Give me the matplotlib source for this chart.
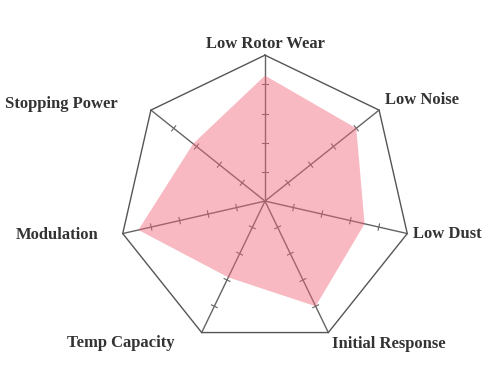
import matplotlib.pyplot as plt
import numpy as np

categories = ['Low Rotor Wear', 'Low Noise', 'Low Dust', 'Initial Response',
              'Temp Capacity', 'Modulation', 'Stopping Power']
values = [8.6, 8.0, 7.0, 8.0, 5.8, 8.9, 6.3]
tick_values = [2, 4, 6, 8]
r_max = 10

# label offsets (pixels) from each outer vertex, plus alignment
label_offsets = [(0, 11), (6, 10), (6, 0), (4, -11), (-27, -10), (-24, -1), (-33, 6)]
label_ha = ['center', 'left', 'left', 'left', 'right', 'right', 'right']

n = len(categories)
angles = np.arange(n) * 2 * np.pi / n

fig = plt.figure(figsize=(5, 3.82), dpi=100)
ax = fig.add_axes([0.238, 0.0916, 0.584, 0.764], projection='polar')
ax.set_theta_zero_location('N')
ax.set_theta_direction(-1)
ax.set_ylim(0, r_max)
ax.axis('off')

# spokes and small cross ticks
half = 0.22
for a in angles:
    ax.plot([a, a], [0, r_max], color='#646464', lw=1, zorder=1, clip_on=False)
    for t in tick_values:
        d = np.arctan(half / t)
        rr = np.hypot(t, half)
        ax.plot([a - d, a + d], [rr, rr], color='#646464', lw=0.8, zorder=1)

# outer heptagon
closed = np.append(angles, angles[0])
ax.plot(closed, [r_max] * (n + 1), color='#555555', lw=1, zorder=1, clip_on=False)

# data area
vals = values + values[:1]
ax.fill(closed, vals, color='#f06478', alpha=0.45, lw=0, zorder=2)

for a, lab, off, ha in zip(angles, categories, label_offsets, label_ha):
    ax.annotate(lab, xy=(a, r_max), xytext=off, textcoords='offset pixels',
                ha=ha, va='center', fontsize=12, fontweight='bold',
                family='Liberation Serif', color='#333333', annotation_clip=False)

fig.savefig('out.png', dpi=100)
